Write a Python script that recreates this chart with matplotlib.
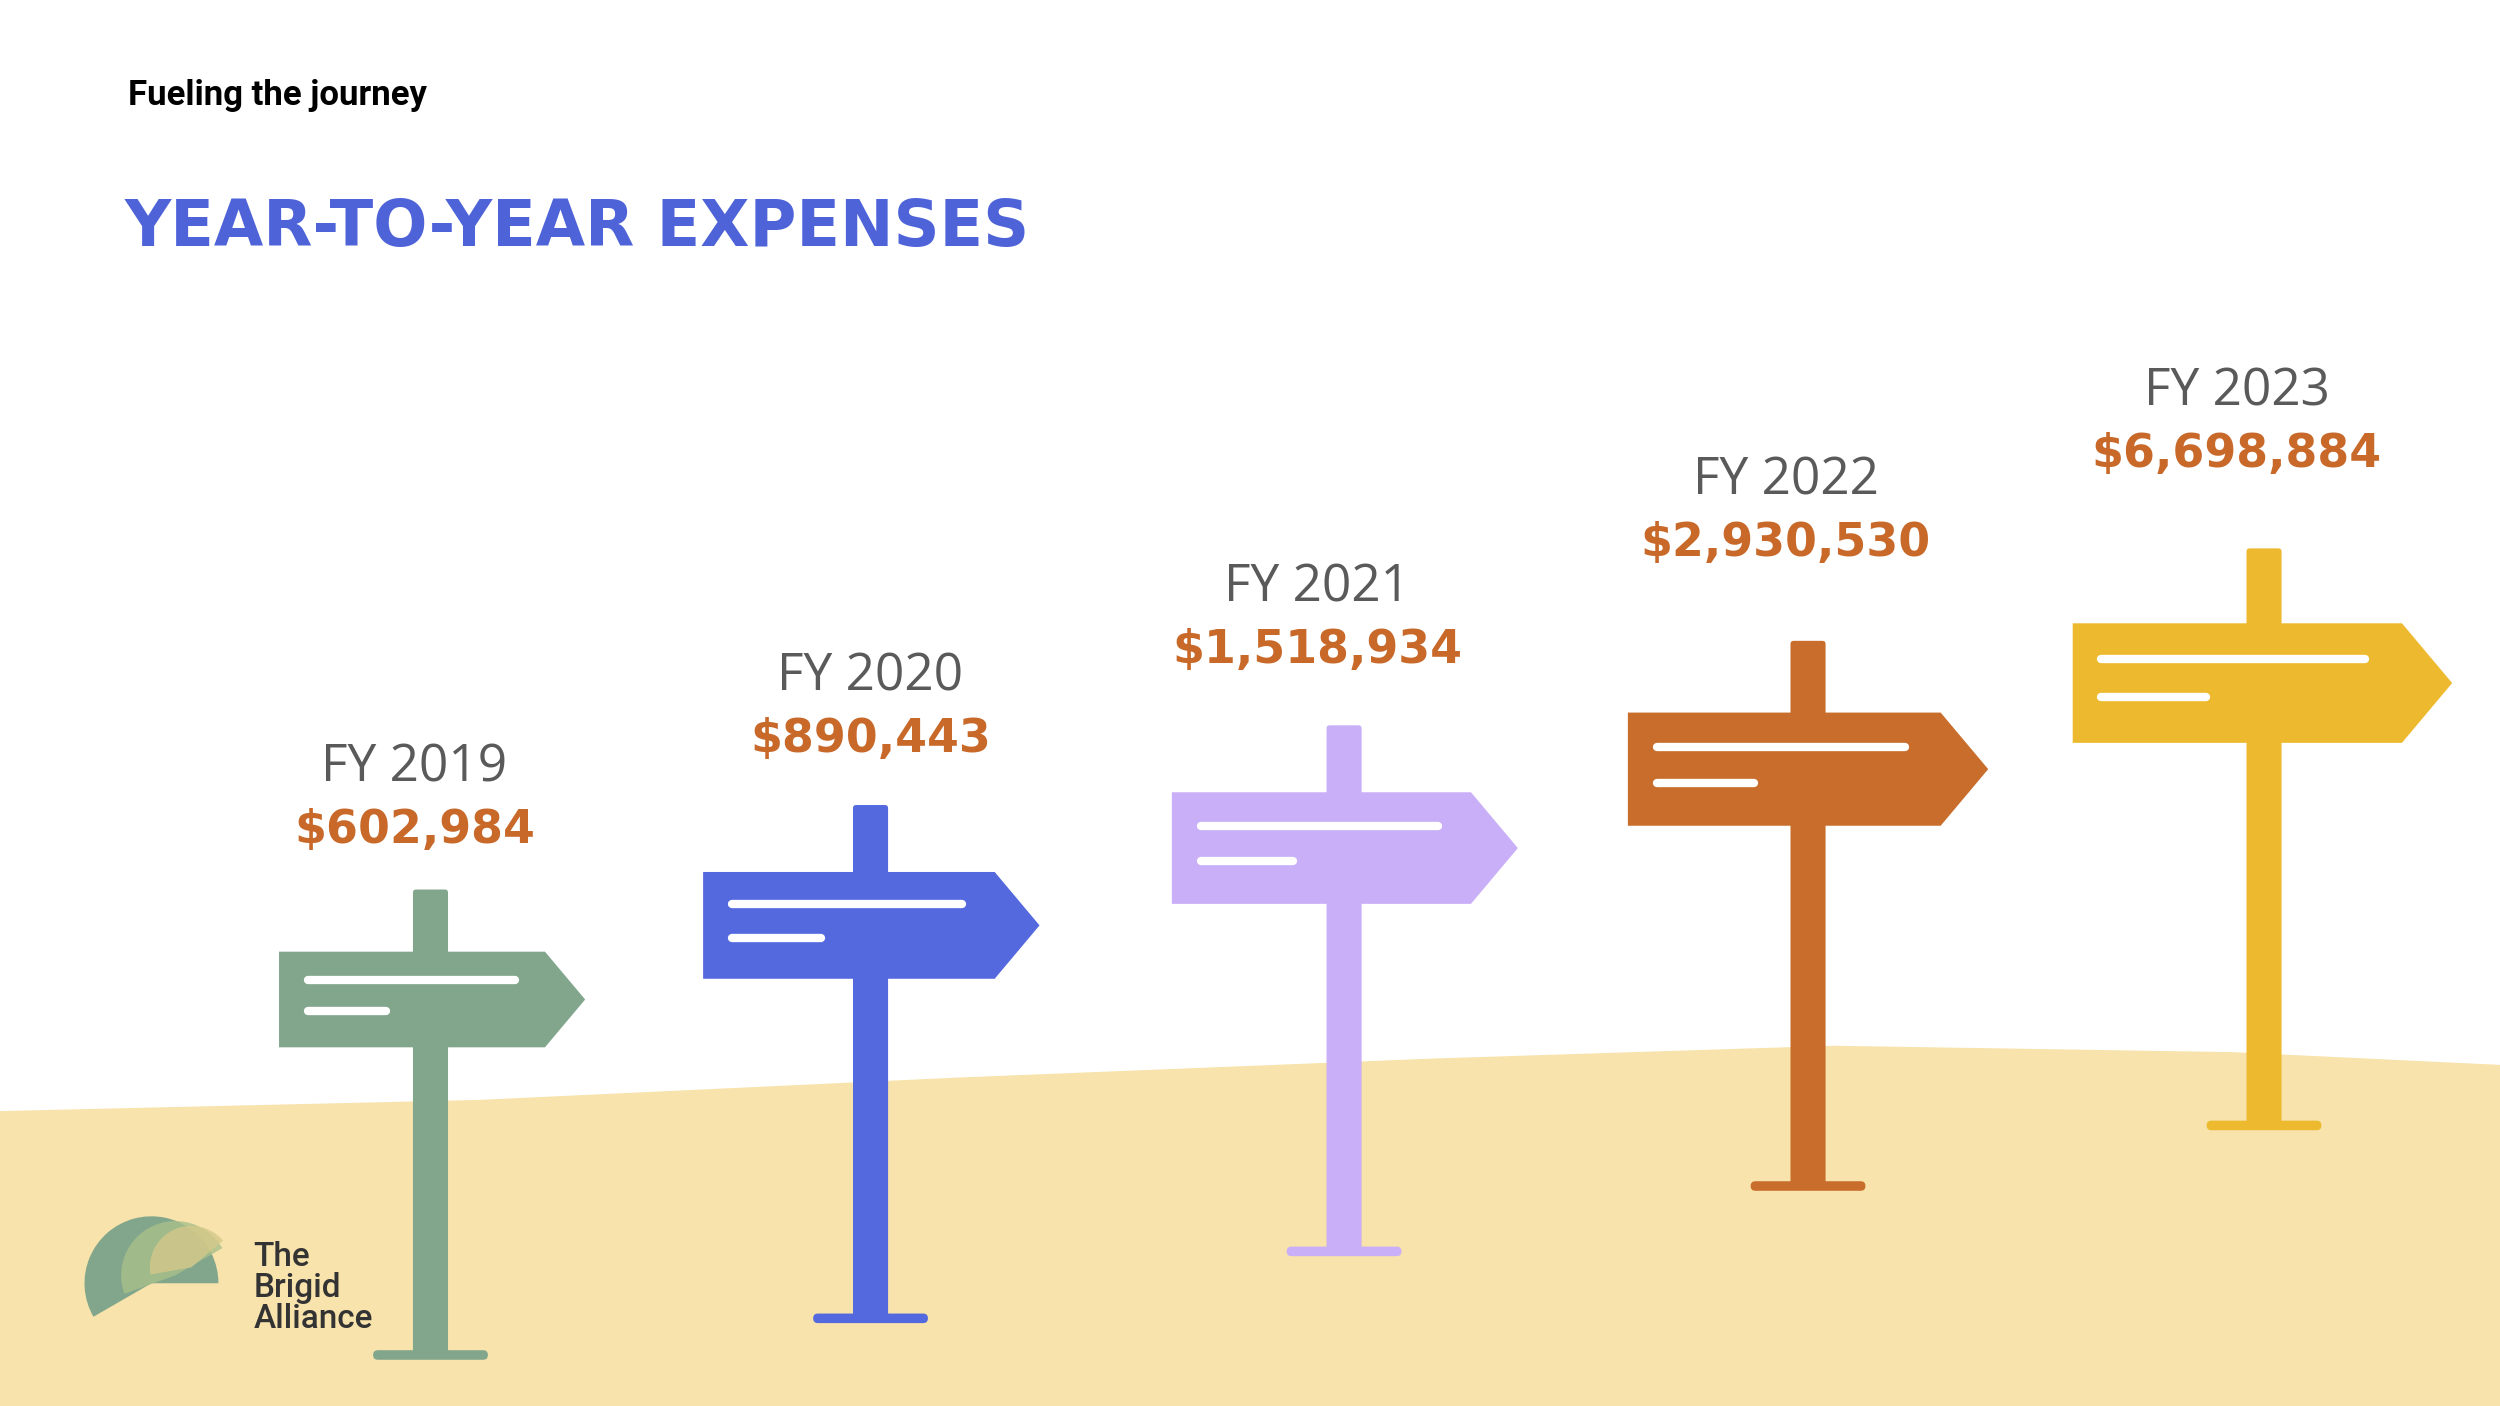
import matplotlib
matplotlib.use("Agg")
import matplotlib.pyplot as plt
from matplotlib.patches import Polygon, FancyBboxPatch, Wedge
import numpy as np

years = ["FY 2019", "FY 2020", "FY 2021", "FY 2022", "FY 2023"]
expenses = [602984, 890443, 1518934, 2930530, 6698884]
colors = ["#82A68C", "#5469DE", "#C9AEF8", "#C86D2B", "#EDBA2F"]

# layout in reference pixel space (1568 x 882)
post_x = [270, 546, 843, 1134, 1420]
post_top = [558, 505, 455, 402, 344]
post_bot = [850, 827, 785, 744, 706]
board_l = [175, 441, 735, 1021, 1300]
board_r = [367, 652, 952, 1247, 1538]
board_t = [597, 547, 497, 447, 391]
board_b = [657, 614, 567, 518, 466]
label_x = [260, 546, 826, 1120, 1403]
label_y = [482, 425, 369, 302, 246]

plt.rcParams['font.family'] = ['Roboto', 'DejaVu Sans']
fig = plt.figure(figsize=(25, 14.06), dpi=100)
ax = fig.add_axes([0, 0, 1, 1])
ax.set_xlim(0, 1568)
ax.set_ylim(882, 0)
ax.axis("off")

# ground
gx = np.array([0, 300, 600, 900, 1150, 1400, 1568])
gy = np.array([697, 690, 676, 664, 656, 660, 668])
ax.add_patch(Polygon(list(zip(gx, gy)) + [(1568, 882), (0, 882)], closed=True,
                     color="#F7E3AB", lw=0, zorder=0))

for i in range(len(years)):
    c = colors[i]
    px = post_x[i]
    ax.add_patch(FancyBboxPatch((px - 11, post_top[i]), 22, post_bot[i] - post_top[i],
                                boxstyle="round,pad=0,rounding_size=2", color=c, lw=0, zorder=2))
    ax.add_patch(FancyBboxPatch((px - 36, post_bot[i] - 3), 72, 6,
                                boxstyle="round,pad=0,rounding_size=3", color=c, lw=0, zorder=2))
    l, r, t, b = board_l[i], board_r[i], board_t[i], board_b[i]
    h = b - t
    tip = r - h * 0.42
    ax.add_patch(Polygon([(l, t), (tip, t), (r, (t + b) / 2), (tip, b), (l, b)],
                         closed=True, color=c, lw=0, zorder=3, joinstyle="round"))
    w = r - l
    ax.plot([l + 18, l + 0.77 * w], [t + 0.3 * h, t + 0.3 * h], color="white", lw=6,
            solid_capstyle="round", zorder=4)
    ax.plot([l + 18, l + 0.35 * w], [t + 0.62 * h, t + 0.62 * h], color="white", lw=6,
            solid_capstyle="round", zorder=4)
    ax.text(label_x[i], label_y[i], years[i], ha="center", va="center",
            fontsize=37, color="#5a5a5a", family=["Open Sans", "DejaVu Sans"], zorder=5)
    ax.text(label_x[i], label_y[i] + 39, "${:,}".format(expenses[i]), ha="center",
            va="center", fontsize=33, fontweight="bold", color="#C8692A",
            family=["DejaVu Sans"], zorder=5)

ax.text(80, 60, "Fueling the journey", fontsize=25, fontweight="bold",
        color="black", va="center", ha="left")
ax.text(78, 143, "YEAR-TO-YEAR EXPENSES", fontsize=46, fontweight="bold",
        color="#4F63D9", va="center", ha="left", family=["DejaVu Sans"])

# logo
ax.add_patch(Wedge((95, 805), 42, 150, 360, color="#82A68C", lw=0, zorder=3))
ax.add_patch(Wedge((110, 800), 34, 160, 330, color="#A9C08A", lw=0, alpha=0.8, zorder=4))
ax.add_patch(Wedge((120, 795), 26, 170, 320, color="#D4C98A", lw=0, alpha=0.8, zorder=5))
ax.text(159, 808, "The\nBrigid\nAlliance", fontsize=24, fontweight="medium",
        color="#333333", va="center", ha="left", linespacing=0.95)

fig.savefig("out.png", dpi=100)
